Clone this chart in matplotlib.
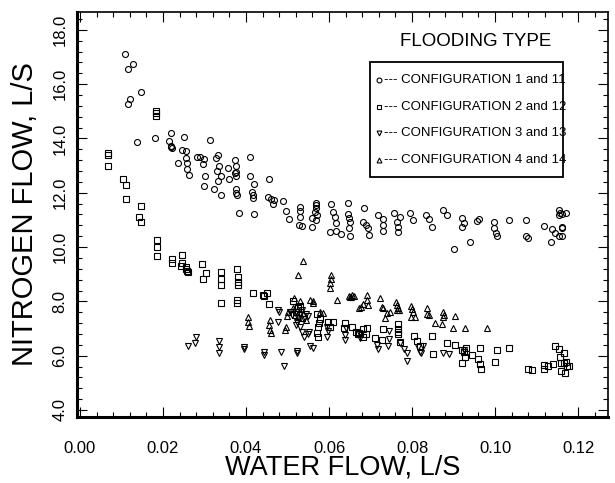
import matplotlib
matplotlib.use("Agg")
import matplotlib.pyplot as plt
from matplotlib.ticker import MultipleLocator, FixedLocator
from matplotlib.patches import Rectangle

plt.rcParams['font.family'] = ['Liberation Sans', 'DejaVu Sans']

# Configuration 1 and 11 (circles)
x1 = [0.0108,0.0116,0.0128,0.0147,0.0120,0.0117,0.0137,0.0181,0.0219,0.0215,0.0219,0.0221,0.0220,0.0251,0.0247,0.0255,0.0237,0.0255,0.0259,0.0257,0.0262,0.0281,0.0289,0.0299,0.0297,0.0313,0.0302,0.0299,0.0324,0.0328,0.0333,0.0336,0.0331,0.0339,0.0332,0.0339,0.0357,0.0359,0.0373,0.0375,0.0376,0.0374,0.0377,0.0375,0.0376,0.0378,0.0410,0.0410,0.0419,0.0415,0.0416,0.0416,0.0382,0.0420,0.0455,0.0453,0.0460,0.0468,0.0466,0.0488,0.0497,0.0504,0.0531,0.0531,0.0530,0.0527,0.0534,0.0559,0.0559,0.0568,0.0569,0.0568,0.0567,0.0570,0.0569,0.0606,0.0610,0.0614,0.0616,0.0602,0.0616,0.0629,0.0646,0.0646,0.0648,0.0650,0.0647,0.0650,0.0685,0.0681,0.0689,0.0694,0.0697,0.0719,0.0730,0.0731,0.0731,0.0757,0.0771,0.0763,0.0766,0.0765,0.0794,0.0803,0.0834,0.0842,0.0847,0.0874,0.0884,0.0901,0.0921,0.0924,0.0920,0.0940,0.0956,0.0961,0.0998,0.0998,0.1002,0.1004,0.1034,0.1075,0.1075,0.1080,0.1117,0.1134,0.1137,0.1145,0.1155,0.1162,0.1162,0.1160,0.1155,0.1157,0.1153,0.1171,0.1162]
y1 = [17.12,16.55,16.74,15.73,15.45,15.26,13.87,14.03,14.21,13.91,13.74,13.64,13.70,14.05,13.58,13.54,13.11,13.27,13.11,12.87,12.65,13.33,13.31,13.24,13.06,13.95,12.63,12.26,12.13,13.27,13.40,12.99,12.82,12.63,12.45,11.91,12.90,12.52,13.19,12.97,12.78,12.72,12.60,12.13,11.98,11.92,13.31,12.60,12.33,12.04,11.92,11.80,11.27,11.22,12.52,11.86,11.77,11.74,11.58,11.70,11.33,11.03,11.49,11.33,11.12,10.82,10.78,11.06,10.75,11.64,11.55,11.43,11.31,11.18,11.00,11.58,11.31,11.12,10.90,10.54,10.60,10.49,11.62,11.22,11.06,10.94,10.69,10.42,11.45,10.94,10.82,10.69,10.45,11.18,11.03,10.82,10.61,11.25,11.12,10.94,10.75,10.54,11.27,11.00,11.17,11.03,10.75,11.36,11.18,9.93,11.06,10.90,10.75,10.20,10.97,11.05,10.94,10.72,10.51,10.39,11.00,11.00,10.39,10.32,10.78,10.20,10.66,10.51,10.39,10.75,10.69,10.42,11.36,11.25,11.18,11.27,11.20]

# Configuration 2 and 12 (squares)
x2 = [0.0067,0.0068,0.0067,0.0104,0.0110,0.0110,0.0146,0.0143,0.0146,0.0183,0.0183,0.0183,0.0186,0.0185,0.0185,0.0223,0.0223,0.0243,0.0245,0.0247,0.0255,0.0259,0.0261,0.0255,0.0293,0.0304,0.0297,0.0341,0.0340,0.0340,0.0341,0.0378,0.0381,0.0380,0.0380,0.0378,0.0378,0.0418,0.0440,0.0443,0.0451,0.0455,0.0514,0.0530,0.0520,0.0526,0.0572,0.0578,0.0574,0.0572,0.0574,0.0577,0.0598,0.0610,0.0602,0.0639,0.0655,0.0665,0.0673,0.0635,0.0671,0.0681,0.0691,0.0689,0.0683,0.0729,0.0727,0.0711,0.0767,0.0767,0.0767,0.0767,0.0771,0.0805,0.0813,0.0818,0.0847,0.0851,0.0884,0.0904,0.0920,0.0924,0.0930,0.0928,0.0921,0.0944,0.0964,0.0960,0.0964,0.0966,0.1004,0.1000,0.1034,0.1079,0.1088,0.1117,0.1118,0.1128,0.1139,0.1145,0.1155,0.1165,0.1157,0.1158,0.1165,0.1171,0.1173,0.1177,0.1169,0.1159]
y2 = [13.46,13.40,12.97,12.51,12.29,11.77,11.53,11.09,10.92,15.03,14.93,14.83,10.26,10.02,9.68,9.55,9.43,9.31,9.41,9.69,9.18,9.13,9.10,9.26,9.37,9.04,8.82,9.10,8.82,8.60,7.95,9.18,8.91,8.73,8.61,8.05,7.95,8.30,8.23,8.18,8.32,7.91,8.03,7.83,7.62,7.75,7.54,7.34,7.07,6.83,6.70,7.20,7.25,7.25,7.07,7.20,7.07,6.88,6.83,7.01,6.80,6.97,7.01,6.80,6.70,6.98,6.58,6.64,7.17,6.98,6.88,6.80,6.52,6.73,6.55,6.37,6.73,6.06,6.46,6.39,6.21,6.15,6.27,5.96,5.72,6.03,6.27,5.87,5.69,5.51,6.21,5.78,6.30,5.50,5.47,5.50,5.66,5.62,5.68,6.37,6.25,6.09,5.96,5.74,5.74,5.78,5.63,5.62,5.35,5.45]

# Configuration 3 and 13 (down triangles)
x3 = [0.0280,0.0277,0.0261,0.0335,0.0335,0.0336,0.0395,0.0396,0.0443,0.0444,0.0484,0.0522,0.0524,0.0492,0.0554,0.0561,0.0476,0.0480,0.0478,0.0506,0.0522,0.0520,0.0530,0.0534,0.0540,0.0553,0.0550,0.0596,0.0598,0.0596,0.0641,0.0639,0.0639,0.0675,0.0675,0.0715,0.0719,0.0745,0.0743,0.0745,0.0771,0.0781,0.0787,0.0789,0.0815,0.0818,0.0821,0.0826,0.0874,0.0889,0.0925,0.0520,0.0530,0.0535,0.0525,0.0545,0.0550,0.0512,0.0540]
y3 = [6.70,6.46,6.37,6.55,6.31,6.09,6.33,6.25,6.15,6.03,6.15,6.17,6.11,5.62,6.36,6.27,7.68,7.62,7.25,7.62,7.25,7.13,7.07,6.88,6.68,6.88,6.80,7.07,6.92,6.70,7.01,6.76,6.58,6.80,6.64,6.39,6.24,6.92,6.36,6.60,6.46,6.25,6.09,5.81,6.33,6.15,6.09,6.37,6.09,6.06,6.21,7.60,7.50,7.70,7.40,7.55,7.45,7.50,7.35]

# Configuration 4 and 14 (up triangles)
x4 = [0.0537,0.0526,0.0604,0.0604,0.0602,0.0602,0.0619,0.0649,0.0655,0.0650,0.0406,0.0406,0.0407,0.0458,0.0456,0.0459,0.0460,0.0496,0.0494,0.0516,0.0530,0.0520,0.0514,0.0502,0.0498,0.0518,0.0526,0.0534,0.0538,0.0545,0.0554,0.0561,0.0562,0.0578,0.0585,0.0673,0.0659,0.0652,0.0676,0.0683,0.0691,0.0692,0.0695,0.0723,0.0727,0.0731,0.0735,0.0747,0.0739,0.0761,0.0763,0.0767,0.0769,0.0763,0.0798,0.0799,0.0798,0.0807,0.0802,0.0837,0.0835,0.0842,0.0855,0.0872,0.0875,0.0877,0.0874,0.0904,0.0899,0.0928,0.0980]
y4 = [9.50,8.97,8.97,8.82,8.67,8.51,8.05,8.20,8.24,8.15,7.42,7.25,7.11,7.32,7.13,6.95,6.85,7.07,6.95,8.12,8.03,7.83,7.75,7.62,7.46,7.50,7.44,7.38,7.56,7.32,8.05,8.00,7.93,7.62,7.56,7.75,8.20,8.15,7.81,7.91,8.24,8.05,7.87,8.12,7.81,7.75,7.38,7.62,7.56,7.99,7.87,7.75,7.68,7.68,7.83,7.71,7.42,7.42,7.59,7.75,7.54,7.50,7.22,7.17,7.59,7.50,7.44,7.46,7.03,7.03,7.01]

xticks = [0.00, 0.02, 0.04, 0.06, 0.08, 0.10, 0.12]
xticklabels = ["0.00", "0.02", "0.04", "0.06", "0.08", "0.10", "0.12"]
yticks = [4, 6, 8, 10, 12, 14, 16, 18]
yticklabels = ["4.0", "6.0", "8.0", "10.0", "12.0", "14.0", "16.0", "18.0"]
legend_labels = ["--- CONFIGURATION 1 and 11", "--- CONFIGURATION 2 and 12",
                 "--- CONFIGURATION 3 and 13", "--- CONFIGURATION 4 and 14"]

fig = plt.figure(figsize=(6.15, 4.83), dpi=100)
ax = fig.add_axes([77/615, 1-417/483, 531/615, 405/483])

kw = dict(linestyle='none', markerfacecolor='none', markeredgecolor='black', markeredgewidth=0.8)
ax.plot(x1, y1, marker='o', markersize=4.3, **kw)
ax.plot(x2, y2, marker='s', markersize=4.1, **kw)
ax.plot(x3, y3, marker='v', markersize=4.5, **kw)
ax.plot(x4, y4, marker='^', markersize=4.5, **kw)

ax.set_xlim(-0.0007, 0.1272)
ax.set_ylim(3.74, 18.66)
ax.xaxis.set_major_locator(FixedLocator(xticks))
ax.set_xticklabels(xticklabels)
ax.xaxis.set_minor_locator(MultipleLocator(0.004))
ax.yaxis.set_major_locator(FixedLocator(yticks))
ax.set_yticklabels(yticklabels, rotation=90, va='center')
ax.yaxis.set_minor_locator(MultipleLocator(0.4))

ax.tick_params(which='both', direction='in', top=True, right=True, width=0.8, colors='black')
ax.tick_params(which='major', length=7)
ax.tick_params(which='minor', length=3.5)
ax.tick_params(axis='x', which='major', labelsize=12, pad=17)
ax.tick_params(axis='y', which='major', labelsize=12, pad=7)

for side in ['left', 'bottom']:
    ax.spines[side].set_linewidth(2.2)
for side in ['top', 'right']:
    ax.spines[side].set_linewidth(1.2)

ax.set_xlabel("WATER FLOW, L/S", fontsize=19.5)
ax.xaxis.set_label_coords(0.5, -0.092)
ax.set_ylabel("NITROGEN FLOW, L/S", fontsize=21)
ax.yaxis.set_label_coords(-0.072, 0.5)

# legend (drawn manually)
ax.text(0.750, 0.926, "FLOODING TYPE", transform=ax.transAxes, ha='center', va='center', fontsize=13.5)
ax.add_patch(Rectangle((0.552, 0.593), 0.363, 0.284, transform=ax.transAxes, fill=False, lw=1.3, edgecolor='black'))
markers = ['o', 's', 'v', '^']
rows = [0.832, 0.765, 0.701, 0.635]
for m, ry, lab in zip(markers, rows, legend_labels):
    ax.plot([0.569], [ry], marker=m, markersize=3.5, transform=ax.transAxes, clip_on=False, **kw)
    ax.text(0.578, ry, lab, transform=ax.transAxes, ha='left', va='center', fontsize=9.5)

fig.savefig("out.png", dpi=100)
